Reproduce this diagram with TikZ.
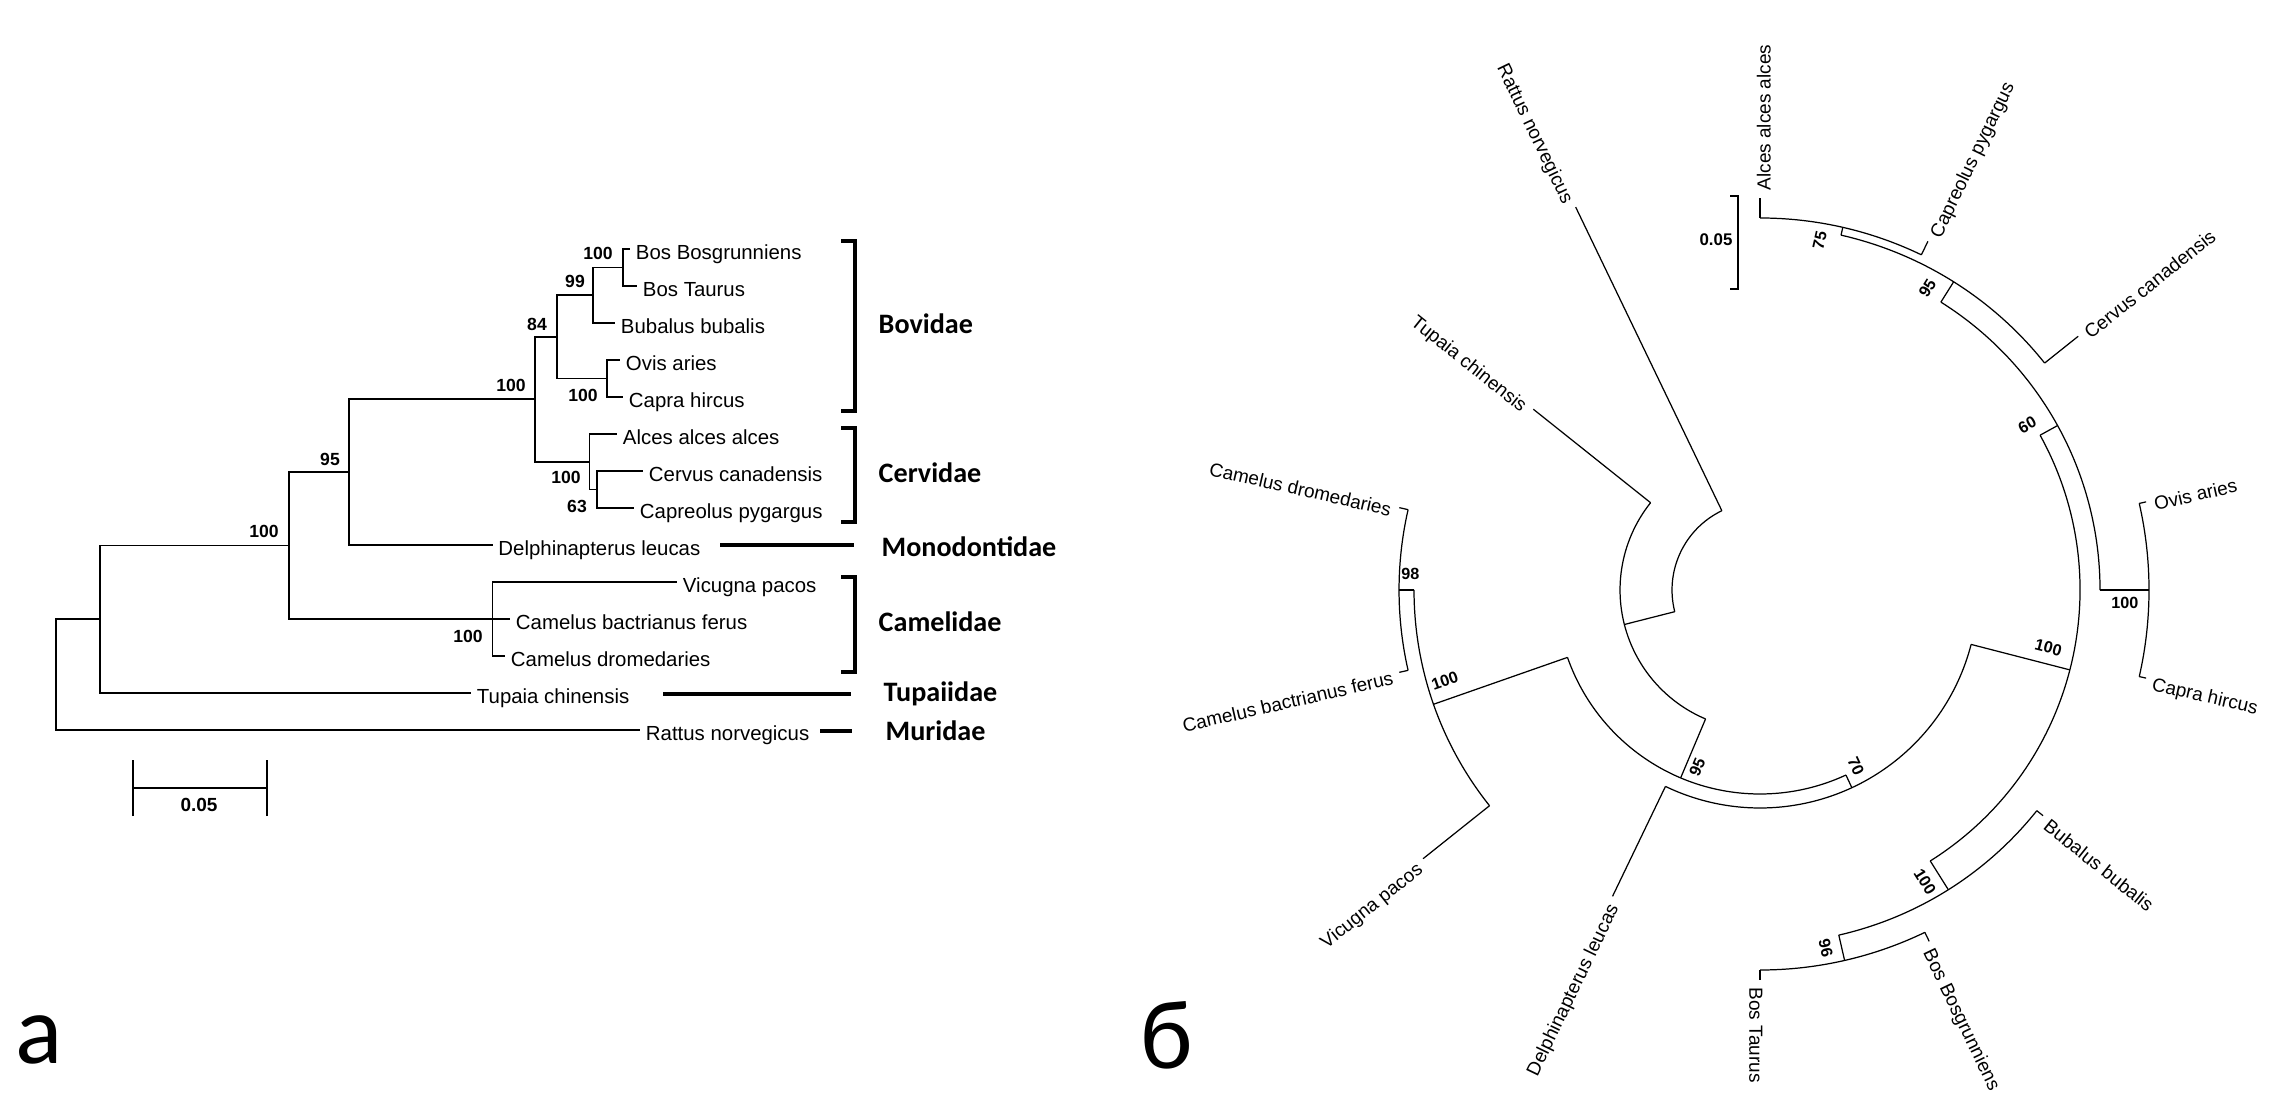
\documentclass[tikz,border=0pt]{standalone}
\usepackage{fontspec}
\setmainfont{Liberation Sans}
\newfontfamily\calib{Carlito}
\usetikzlibrary{positioning}

\begin{document}
\begin{tikzpicture}[x=0.01cm, y=0.01cm,
     branch/.style = {line width=0.5pt},
     cbranch/.style = {line width=0.35pt},
     leaf/.style = {font=\fontsize{5.8}{7}\selectfont, anchor=west, inner sep=1.5pt,
      text height=1.6ex, text depth=0.45ex},
     cleaf/.style = {font=\fontsize{5.4}{6}\selectfont, inner sep=2pt,
      text height=1.6ex, text depth=0.45ex},
     boot/.style = {font=\bfseries\fontsize{5}{6}\selectfont, inner sep=0pt},
     cboot/.style = {font=\bfseries\fontsize{4.6}{5}\selectfont, inner sep=0pt},
     family/.style = {font=\calib\bfseries\fontsize{8}{9}\selectfont, anchor=west, inner sep=0pt},
     clade/.style = {line width=1pt},
     famline/.style = {line width=1.4pt},
     scalebar/.style = {line width=0.8pt},
     panel/.style = {font=\calib\fontsize{28}{30}\selectfont, anchor=base west, inner sep=0pt}
    ]
    \useasboundingbox (0,0) rectangle (2283,-1101);

    % --- a: rectangular tree
    \coordinate (root) at (56,-674.6);
    \coordinate (nT) at (100,-619.3);
    \coordinate (nA) at (289,-545.6);
    \coordinate (n95) at (349,-472.2);
    \coordinate (nCam) at (492.5,-619);
    \coordinate (nBC) at (535,-399.3);
    \coordinate (n84) at (557,-336.9);
    \coordinate (n99) at (593,-295.25);
    \coordinate (nBos) at (623,-267.5);
    \coordinate (nOC) at (607,-378.5);
    \coordinate (nCerv) at (589.5,-461.75);
    \coordinate (n63) at (597,-489.5);

    \node [leaf] (lBosB) at (630,-249) {Bos Bosgrunniens};
    \node [leaf] (lBosT) at (637,-286) {Bos Taurus};
    \node [leaf] (lBub) at (615,-323) {Bubalus bubalis};
    \node [leaf] (lOvis) at (620,-360) {Ovis aries};
    \node [leaf] (lCapra) at (623,-397) {Capra hircus};
    \node [leaf] (lAlces) at (617,-434) {Alces alces alces};
    \node [leaf] (lCerv) at (643,-471) {Cervus canadensis};
    \node [leaf] (lCapr) at (634,-508) {Capreolus pygargus};
    \node [leaf] (lDelph) at (492.5,-545) {Delphinapterus leucas};
    \node [leaf] (lVic) at (677,-582) {Vicugna pacos};
    \node [leaf] (lCbac) at (510,-619) {Camelus bactrianus ferus};
    \node [leaf] (lCdro) at (505,-656) {Camelus dromedaries};
    \node [leaf] (lTup) at (471,-693) {Tupaia chinensis};
    \node [leaf] (lRat) at (640,-730) {Rattus norvegicus};

    \draw[branch] (root) |- (nT);
    \draw[branch] (root) |- (lRat.west);
    \draw[branch] (nT) |- (nA);
    \draw[branch] (nT) |- (lTup.west);
    \draw[branch] (nA) |- (n95);
    \draw[branch] (nA) |- (nCam);
    \draw[branch] (n95) |- (nBC);
    \draw[branch] (n95) |- (lDelph.west);
    \draw[branch] (nBC) |- (n84);
    \draw[branch] (nBC) |- (nCerv);
    \draw[branch] (n84) |- (n99);
    \draw[branch] (n84) |- (nOC);
    \draw[branch] (n99) |- (nBos);
    \draw[branch] (n99) |- (lBub.west);
    \draw[branch] (nBos) |- (lBosB.west);
    \draw[branch] (nBos) |- (lBosT.west);
    \draw[branch] (nOC) |- (lOvis.west);
    \draw[branch] (nOC) |- (lCapra.west);
    \draw[branch] (nCerv) |- (lAlces.west);
    \draw[branch] (nCerv) |- (n63);
    \draw[branch] (n63) |- (lCerv.west);
    \draw[branch] (n63) |- (lCapr.west);
    \draw[branch] (nCam) |- (lVic.west);
    \draw[branch] (nCam) |- (lCbac.west);
    \draw[branch] (nCam) |- (lCdro.west);

    \node [boot] (bBos) at (598,-253) {100};
    \node [boot] (b99) at (575,-281.7) {99};
    \node [boot] (b84) at (537,-324.3) {84};
    \node [boot] (bBC) at (511,-385.8) {100};
    \node [boot] (bOC) at (583,-395.8) {100};
    \node [boot] (bCerv) at (566,-477) {100};
    \node [boot] (b63) at (577,-506) {63};
    \node [boot] (b95) at (330,-459) {95};
    \node [boot] (bA) at (264,-531.6) {100};
    \node [boot] (bCam) at (468,-636.5) {100};

    % families
    \draw[clade] (841,-241) -- (855,-241) -- (855,-411) -- (841,-411);
    \draw[clade] (841,-428) -- (855,-428) -- (855,-522) -- (841,-522);
    \draw[clade] (841,-577) -- (855,-577) -- (855,-672) -- (841,-672);
    \node [family] (fBov) at (878,-324) {Bovidae};
    \node [family] (fCerv) at (878,-473) {Cervidae};
    \node [family] (fMono) at (881,-547) {Monodontidae};
    \node [family] (fCam) at (878,-622) {Camelidae};
    \node [family] (fTup) at (883,-694) {Tupaiidae};
    \node [family] (fMur) at (885,-731) {Muridae};
    \coordinate (mMono) at (720,-545);
    \coordinate (mTup) at (663,-694);
    \coordinate (mMur) at (820,-731);
    \draw[famline] (mMono) -- (854,-545);
    \draw[famline] (mTup) -- (851,-694);
    \draw[famline] (mMur) -- (852,-731);

    % scale a
    \coordinate (sA1) at (133,-788);
    \coordinate (sA2) at (267,-788);
    \draw[scalebar] (sA1) -- (sA2);
    \draw[scalebar] ([yshift=-8]sA1) -- ([yshift=8]sA1);
    \draw[scalebar] ([yshift=-8]sA2) -- ([yshift=8]sA2);
    \node [boot, font=\bfseries\fontsize{5.4}{6}\selectfont] (sAlab) at (199,-805) {0.05};

    \node [panel] (pa) at (15,-1063) {а};
    \node [panel] (pb) at (1140,-1068) {б};

    % --- b: circle tree
    \begin{scope}[shift={(1760,-590)}, cbranch]
    \coordinate (tAlc) at (90:392);
    \coordinate (tCap) at (64.29:387);
    \coordinate (tCer) at (38.57:407);
    \coordinate (tOvi) at (12.86:396);
    \coordinate (tCpr) at (-12.86:396);
    \coordinate (tBub) at (-38.57:362);
    \coordinate (tBBg) at (-64.29:390);
    \coordinate (tBTa) at (-90:390);
    \coordinate (tDel) at (-115.71:340);
    \coordinate (tVic) at (-141.43:431);
    \coordinate (tCba) at (-167.14:370);
    \coordinate (tCdr) at (167.14:370);
    \coordinate (tTup) at (141.43:290);
    \coordinate (tRat) at (115.71:425);

    \coordinate (cN1) at (194.27:140);
    \coordinate (cN2) at (247.1:204);
    \coordinate (cNC) at (199.29:346);
    \coordinate (cN98) at (180:361);
    \coordinate (cN70) at (294.91:218);
    \coordinate (cN100) at (345.54:320);
    \coordinate (cN60) at (28.93:340);
    \coordinate (cOC) at (0:389);
    \coordinate (cN95) at (57.86:364);
    \coordinate (cN75) at (77.14:372);
    \coordinate (cBov) at (-57.86:354);
    \coordinate (cN96) at (-77.14:380);

    \node [cleaf, rotate=90, anchor=west] (lAlc) at (tAlc) {Alces alces alces};
    \node [cleaf, rotate=64.29, anchor=west] (lCap) at (tCap) {Capreolus pygargus};
    \node [cleaf, rotate=38.57, anchor=west] (lCer) at (tCer) {Cervus canadensis};
    \node [cleaf, rotate=12.86, anchor=west] (lOvi) at (tOvi) {Ovis aries};
    \node [cleaf, rotate=-12.86, anchor=west] (lCpr) at (tCpr) {Capra hircus};
    \node [cleaf, rotate=-38.57, anchor=west] (lBu) at (tBub) {Bubalus bubalis};
    \node [cleaf, rotate=-64.29, anchor=west] (lBBg) at (tBBg) {Bos Bosgrunniens};
    \node [cleaf, rotate=-90, anchor=west] (lBTa) at (tBTa) {Bos Taurus};
    \node [cleaf, rotate=64.29, anchor=east] (lDel) at (tDel) {Delphinapterus leucas};
    \node [cleaf, rotate=38.57, anchor=east] (lVi) at (tVic) {Vicugna pacos};
    \node [cleaf, rotate=12.86, anchor=east] (lCba) at (tCba) {Camelus bactrianus ferus};
    \node [cleaf, rotate=-12.86, anchor=east] (lCdr) at (tCdr) {Camelus dromedaries};
    \node [cleaf, rotate=-38.57, anchor=east] (lTu) at (tTup) {Tupaia chinensis};
    \node [cleaf, rotate=-64.29, anchor=east] (lRa) at (tRat) {Rattus norvegicus};

    \draw (115.71:88) arc[start angle=115.71, end angle=194.27, radius=88];
    \draw (115.71:88) -- (tRat);
    \draw (194.27:88) -- (cN1);
    \draw (141.43:140) arc[start angle=141.43, end angle=247.1, radius=140];
    \draw (141.43:140) -- (tTup);
    \draw (247.1:140) -- (cN2);
    \draw (199.29:204) arc[start angle=199.29, end angle=294.91, radius=204];
    \draw (199.29:204) -- (cNC);
    \draw (180:346) arc[start angle=180, end angle=218.57, radius=346];
    \draw (218.57:346) -- (tVic);
    \draw (180:346) -- (cN98);
    \draw (167.14:361) arc[start angle=167.14, end angle=192.86, radius=361];
    \draw (167.14:361) -- (tCdr);
    \draw (192.86:361) -- (tCba);
    \draw (294.91:204) -- (cN70);
    \draw (244.29:218) arc[start angle=244.29, end angle=345.54, radius=218];
    \draw (244.29:218) -- (tDel);
    \draw (345.54:218) -- (cN100);
    \draw (-57.86:320) arc[start angle=-57.86, end angle=28.93, radius=320];
    \draw (28.93:320) -- (cN60);
    \draw (0:340) arc[start angle=0, end angle=57.86, radius=340];
    \draw (0:340) -- (cOC);
    \draw (-12.86:389) arc[start angle=-12.86, end angle=12.86, radius=389];
    \draw (12.86:389) -- (tOvi);
    \draw (-12.86:389) -- (tCpr);
    \draw (57.86:340) -- (cN95);
    \draw (38.57:364) arc[start angle=38.57, end angle=77.14, radius=364];
    \draw (38.57:364) -- (tCer);
    \draw (77.14:364) -- (cN75);
    \draw (64.29:372) arc[start angle=64.29, end angle=90, radius=372];
    \draw (90:372) -- (tAlc);
    \draw (64.29:372) -- (tCap);
    \draw (-57.86:320) -- (cBov);
    \draw (-77.14:354) arc[start angle=-77.14, end angle=-38.57, radius=354];
    \draw (-38.57:354) -- (tBub);
    \draw (-77.14:354) -- (cN96);
    \draw (-90:380) arc[start angle=-90, end angle=-64.29, radius=380];
    \draw (-64.29:380) -- (tBBg);
    \draw (-90:380) -- (tBTa);

    \node [cboot, rotate=77] (b75) at (80.3:355) {75};
    \node [cboot, rotate=58] (b95u) at (61:345) {95};
    \node [cboot, rotate=29] (b60) at (31.7:314) {60};
    \node [cboot] (bOCb) at (-2.1:365) {100};
    \node [cboot, rotate=-14.5] (bN100) at (-11.3:294) {100};
    \node [cboot, rotate=-58] (bBov) at (-60.5:335) {100};
    \node [cboot, rotate=-77] (b96) at (-79.6:364) {96};
    \node [cboot, rotate=-65] (b70) at (-61.5:201) {70};
    \node [cboot, rotate=67] (b95l) at (250.5:188) {95};
    \node [cboot, rotate=19] (bNC) at (196:328) {100};
    \node [cboot] (b98) at (177.3:350) {98};
    \end{scope}

    % scale b
    \draw[scalebar] (1730,-196) -- (1738,-196) -- (1738,-289) -- (1730,-289);
    \node [cboot, font=\bfseries\fontsize{4.8}{5}\selectfont] (sBlab) at (1716,-240) {0.05};
\end{tikzpicture}
\end{document}
